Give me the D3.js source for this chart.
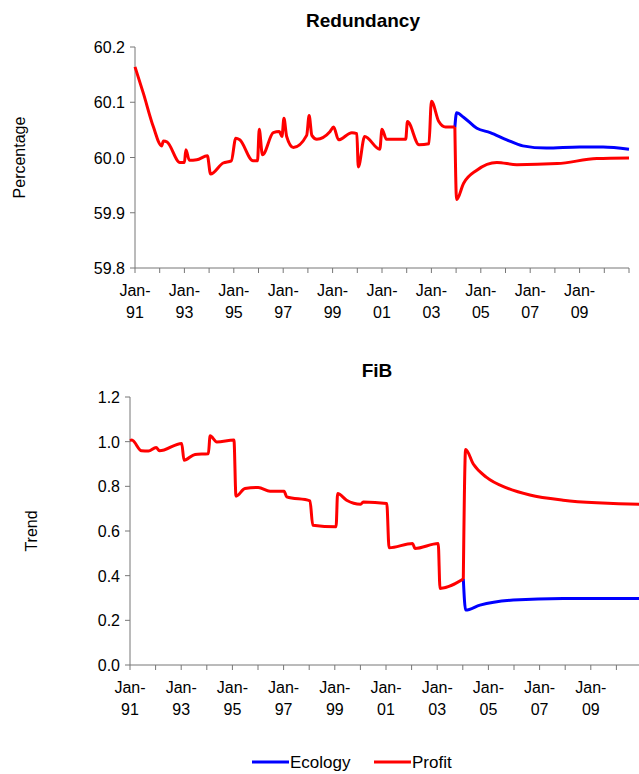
<!DOCTYPE html>
<html><head><meta charset="utf-8">
<script src="https://cdn.jsdelivr.net/npm/d3@7"></script>
<style>body{margin:0;background:#fff}text{font-family:"Liberation Sans",Arial,sans-serif}</style>
</head><body><svg id="c" width="639" height="774"></svg>
<script>
// years since Jan-91, value
const yearLabels = ["91","93","95","97","99","01","03","05","07","09"]
const redT = [0,0.34,0.74,1.08,1.15,1.3,1.82,2.0,2.06,2.2,2.5,2.93,3.06,3.57,3.9,4.08,4.24,4.78,4.96,5.03,5.16,5.6,5.84,5.95,6.03,6.14,6.41,6.95,7.05,7.16,7.36,7.9,8.04,8.24,8.78,8.98,9.04,9.3,9.91,10.0,10.18,10.96,11.03,11.5,11.9,12.0,12.3,12.57,12.95]
const redV = [60.164,60.116,60.056,60.021,60.030,60.028,59.991,59.991,60.014,59.995,59.996,60.003,59.970,59.990,59.994,60.035,60.032,59.994,59.994,60.051,60.005,60.045,60.047,60.038,60.071,60.038,60.018,60.040,60.076,60.040,60.033,60.047,60.055,60.032,60.045,60.043,59.983,60.038,60.015,60.051,60.033,60.033,60.065,60.023,60.025,60.102,60.065,60.055,60.055]
const redAfterT = [12.95,13.02,13.3,13.84,14.65,15.46,17.1,18.7,20]
const redAfterV = [60.055,59.924,59.953,59.977,59.991,59.987,59.989,59.998,59.999]
const blueT = [12.95,13.02,13.3,13.84,14.38,15.05,15.7,16.65,18,18.95,20]
const blueV = [60.055,60.081,60.073,60.053,60.045,60.032,60.021,60.017,60.019,60.019,60.015]

const fibT = [0,0.07,0.45,0.72,1.02,1.15,2.02,2.11,2.54,3.06,3.13,3.39,4.06,4.14,4.49,5.01,5.47,6.02,6.12,7.03,7.14,8.05,8.11,8.46,9.01,9.11,10.03,10.12,11.04,11.13,12.04,12.11,13.02]
const fibV = [1.005,1.007,0.959,0.958,0.974,0.959,0.992,0.917,0.943,0.946,1.026,0.999,1.007,0.756,0.790,0.795,0.778,0.778,0.753,0.735,0.626,0.619,0.768,0.738,0.720,0.730,0.723,0.525,0.544,0.522,0.544,0.343,0.385]
const fibProfitT = [13.02,13.11,13.41,13.93,14.71,15.62,16.92,18.23,19.88,20]
const fibProfitV = [0.385,0.965,0.900,0.840,0.793,0.761,0.738,0.726,0.720,0.720]
const fibEcoT = [13.02,13.11,13.67,14.97,16.92,20]
const fibEcoV = [0.385,0.246,0.268,0.291,0.298,0.298]

const svg = d3.select("#c")
const zip = (t, v) => t.map((d, i) => [d, v[i]])

function panel(o) {
  const x = d3.scaleLinear().domain([0, 20]).range([o.x0, o.x1])
  const y = d3.scaleLinear().domain(o.dom).range([o.yb, o.yt])
  const g = svg.append("g")
  g.append("line").attr("x1", o.x0).attr("x2", o.x0).attr("y1", o.yt).attr("y2", o.yb).attr("stroke", "#777")
  g.append("line").attr("x1", o.x0).attr("x2", o.x1).attr("y1", o.yb).attr("y2", o.yb).attr("stroke", "#777")
  o.ticks.forEach(v => {
    g.append("line").attr("x1", o.x0 - 5).attr("x2", o.x0).attr("y1", y(v)).attr("y2", y(v)).attr("stroke", "#777")
    g.append("text").attr("x", o.x0 - 10).attr("y", y(v) + 6).attr("text-anchor", "end")
      .attr("font-size", 16).text(o.fmt(v))
  })
  d3.range(0, 21).forEach(i => {
    g.append("line").attr("x1", x(i)).attr("x2", x(i)).attr("y1", o.yb).attr("y2", o.yb + 5).attr("stroke", "#777")
  })
  yearLabels.forEach((l, i) => {
    const t = g.append("text").attr("x", x(i * 2)).attr("text-anchor", "middle").attr("font-size", 16)
    t.append("tspan").attr("x", x(i * 2)).attr("y", o.yb + 28).text("Jan-")
    t.append("tspan").attr("x", x(i * 2)).attr("y", o.yb + 50).text(l)
  })
  g.append("text").attr("x", o.tx).attr("y", o.yt - 20).attr("text-anchor", "middle")
    .attr("font-size", 19).attr("font-weight", "bold").text(o.title)
  g.append("text").attr("transform", `translate(${o.lx},${(o.yt + o.yb) / 2}) rotate(-90)`)
    .attr("text-anchor", "middle").attr("font-size", 16).text(o.ylab)
  const line = d3.line().x(d => x(d[0])).y(d => y(d[1])).curve(d3.curveMonotoneX)
  o.series.forEach(s => {
    g.append("path").attr("d", line(s.d)).attr("fill", "none").attr("stroke", s.c)
      .attr("stroke-width", 3).attr("stroke-linejoin", "round")
  })
}

panel({x0: 135, x1: 629, yt: 47, yb: 268, dom: [59.8, 60.2], ticks: [59.8, 59.9, 60.0, 60.1, 60.2],
  fmt: d3.format(".1f"), title: "Redundancy", tx: 363, ylab: "Percentage", lx: 25,
  series: [{d: zip(blueT, blueV), c: "#0000ff"}, {d: zip(redT, redV), c: "#ff0000"}, {d: zip(redAfterT, redAfterV), c: "#ff0000"}]})

panel({x0: 130, x1: 642, yt: 397, yb: 665, dom: [0, 1.2], ticks: [0, 0.2, 0.4, 0.6, 0.8, 1.0, 1.2],
  fmt: d3.format(".1f"), title: "FiB", tx: 377, ylab: "Trend", lx: 37,
  series: [{d: zip(fibEcoT, fibEcoV), c: "#0000ff"}, {d: zip(fibT, fibV), c: "#ff0000"}, {d: zip(fibProfitT, fibProfitV), c: "#ff0000"}]})

const legend = [["Ecology", "#0000ff", 252], ["Profit", "#ff0000", 374]]
legend.forEach(([n, c, lx]) => {
  svg.append("line").attr("x1", lx).attr("x2", lx + 37).attr("y1", 762).attr("y2", 762).attr("stroke", c).attr("stroke-width", 3)
  svg.append("text").attr("x", lx + 38).attr("y", 768).attr("font-size", 17).text(n)
})
</script></body></html>
